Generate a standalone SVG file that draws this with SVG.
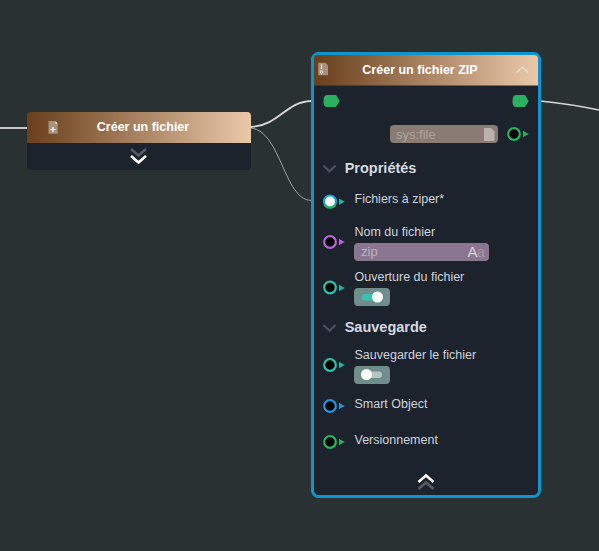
<svg xmlns="http://www.w3.org/2000/svg" width="599" height="551" viewBox="0 0 599 551">
<style>
text{font-family:"Liberation Sans",Arial,sans-serif}
.t{font-size:12.5px;fill:#ccd3dc}
.h{font-size:12.5px;font-weight:700;fill:#fff}
.s{font-size:14.5px;font-weight:700;fill:#d5dae0}
.w{fill:none;stroke:#d8d8d8}
.c{fill:none;stroke:#4b5261;stroke-width:2}
.chev{fill:none;stroke-width:2.600}
.p{fill:#000;stroke-width:2.200}
.hex{fill:#2bb05f;stroke:#2bb05f;stroke-width:2;stroke-linejoin:round}
</style>
<defs>
<linearGradient id="g"><stop offset="0" stop-color="#693f1c"/><stop offset="1" stop-color="#e9c8a9"/></linearGradient>
</defs>
<rect width="599" height="551" fill="#2a3133"/>
<g id="connectors">
<path class="w" stroke-width="1.800" d="M0 128H27"/>
<path class="w" stroke-width="1.800" d="M251 127C280 125 285 102 311 101"/>
<path class="w" stroke-width="0.800" stroke-opacity=".85" d="M251 128C281 131 284 200 311 200.500"/>
<path class="w" stroke-width="1.600" d="M540 101C560 103 580 106 599 110"/>
<path fill="none" stroke="#4b5261" stroke-width="1.200" d="M314 100.500H325M314 201H325M527 100.500H538"/>
</g>
<g id="node-creer-fichier">
<path fill="#1d232d" d="M27 140H251V166a4 4 0 0 1-4 4H31a4 4 0 0 1-4-4Z"/>
<path fill="url(#g)" d="M31 112H247a4 4 0 0 1 4 4V143H27V116a4 4 0 0 1 4-4Z"/>
<path fill="#a79280" d="M48.500 121H55.500L57.700 123.200V133.700H48.500Z"/>
<path fill="#fff" d="M55.500 121.500l2 2h-2Z"/>
<path stroke="#fff" stroke-width="1.200" d="M50.500 129.500h5M53 127v5"/>
<text class="h" x="143" y="131" text-anchor="middle">Créer un fichier</text>
<path class="chev" stroke="#555b68" d="M131 149l7.500 6.500 7.500-6.500"/>
<path class="chev" stroke="#fff" d="M131 156l7.500 6.500 7.500-6.500"/>
</g>
<g id="node-creer-zip">
<rect x="312.500" y="53.500" width="227" height="443" rx="6" fill="#1d232d" stroke="#0e95cf" stroke-width="3"/>
<path fill="url(#g)" d="M317 55H534a4 4 0 0 1 4 4V85.500H314V58a3 3 0 0 1 3-3Z"/>
<path fill="#a79280" d="M318.200 62.800H325.500L328 65.300V75.200H318.200Z"/>
<path stroke="#fff" stroke-width="1" d="M321.500 64.500v4.500"/><circle cx="321.500" cy="72" r="1.300" fill="none" stroke="#fff" stroke-width=".8"/>
<text class="h" x="420" y="74" text-anchor="middle">Créer un fichier ZIP</text>
<path fill="none" stroke="#f3e3d3" stroke-opacity=".75" stroke-width="1.300" d="M517 72.500l5.500-5.500 5.500 5.500"/>
<path class="hex" d="M327 96H335.500L338.500 101 335.500 106H327Q324.500 106 324.500 101T327 96Z"/>
<path class="hex" d="M516 96H524.500L527.500 101 524.500 106H516Q513.500 106 513.500 101T516 96Z"/>
<rect x="390" y="125" width="108" height="18" rx="4" fill="#8a7b74"/>
<text x="396" y="139" font-size="13" fill="#ada49f">sys:file</text>
<path fill="#bcb2ab" d="M484 128H491L494.500 131.500V141H484Z"/>
<circle class="p" cx="514" cy="134" r="5.800" stroke="#2bb05f"/>
<path fill="#2bb05f" d="M523 130.700l5.700 3.300-5.700 3.300Z"/>
<path class="c" d="M323.500 165.500l6 5.800 6-5.800"/>
<text class="s" x="344.700" y="173">Propriétés</text>
<circle cx="330" cy="201.500" r="6" fill="#fff" stroke="#1e9fd8" stroke-width="2.200"/>
<path fill="none" stroke="#2bb05f" stroke-width="2.200" d="M324.500 204.500a6.300 6.300 0 0 0 11 0"/>
<path fill="#2ab09c" d="M339 198.500l5.700 3.300-5.700 3.300Z"/>
<text class="t" x="354.500" y="203">Fichiers à ziper*</text>
<circle class="p" cx="330" cy="242" r="5.800" stroke="#b565d2"/>
<path fill="#b565d2" d="M339 238.700l5.700 3.300-5.700 3.300Z"/>
<text class="t" x="354.500" y="236">Nom du fichier</text>
<rect x="354" y="243" width="135" height="18" rx="4" fill="#8a7690"/>
<text x="361" y="255.500" font-size="13" fill="#bdb2c2">zip</text>
<text x="467.500" y="257" font-size="15" fill="#dcd6df">A</text>
<text x="477" y="257" font-size="14" fill="#a596aa">a</text>
<circle class="p" cx="330" cy="287.500" r="5.800" stroke="#2fbfa8"/>
<path fill="#2ab09c" d="M339 284.700l5.700 3.300-5.700 3.300Z"/>
<text class="t" x="354.500" y="281">Ouverture du fichier</text>
<rect x="354" y="288" width="36" height="18" rx="4" fill="#6e8d8b"/>
<rect x="361.500" y="294" width="20" height="6.500" rx="3.200" fill="#3cc0ad"/>
<circle cx="377.500" cy="297" r="5.500" fill="#fff"/>
<path class="c" d="M323.500 325l6 5.800 6-5.800"/>
<text class="s" x="344.700" y="332">Sauvegarde</text>
<circle class="p" cx="330" cy="365" r="5.800" stroke="#2fbfa8"/>
<path fill="#2ab09c" d="M339 361.700l5.700 3.300-5.700 3.300Z"/>
<text class="t" x="354.500" y="359">Sauvegarder le fichier</text>
<rect x="354" y="366" width="36" height="18" rx="4" fill="#6e8d8b"/>
<rect x="362" y="371.500" width="20" height="6.500" rx="3.200" fill="#b8c4c4"/>
<circle cx="366.500" cy="374.500" r="5.500" fill="#fff"/>
<circle class="p" cx="330" cy="406" r="5.800" stroke="#2a8fd6"/>
<path fill="#2a8fd6" d="M339 402.700l5.700 3.300-5.700 3.300Z"/>
<text class="t" x="354.500" y="408">Smart Object</text>
<circle class="p" cx="330" cy="442" r="5.800" stroke="#2bb05f"/>
<path fill="#2bb05f" d="M339 438.700l5.700 3.300-5.700 3.300Z"/>
<text class="t" x="354.500" y="444">Versionnement</text>
<path class="chev" stroke="#fff" d="M418.500 482l7.500-6.500 7.500 6.500"/>
<path class="chev" stroke="#555b68" d="M418.500 489l7.500-6.500 7.500 6.500"/>
</g>
</svg>
